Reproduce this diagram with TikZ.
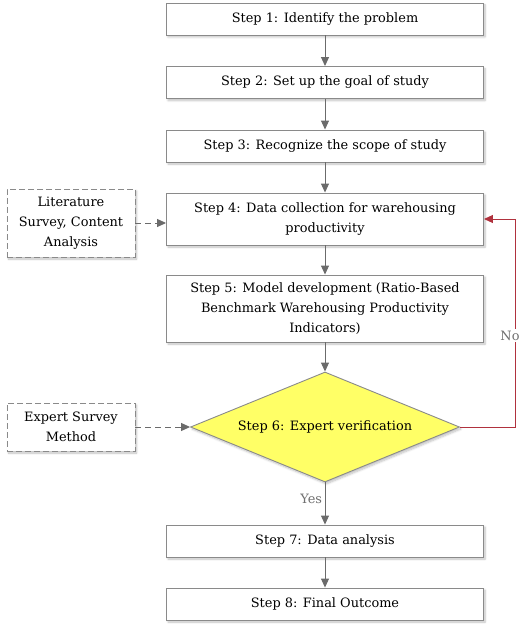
\documentclass[tikz,border=0pt]{standalone}
\usepackage{fontspec}
\setmainfont{DejaVu Serif}
\usetikzlibrary{shapes.geometric,arrows.meta,shadows.blur}
\definecolor{edgegrey}{HTML}{6B6B6B}
\definecolor{boxgrey}{HTML}{8A8A8A}
\definecolor{noRed}{HTML}{B0323E}
\definecolor{diaYellow}{HTML}{FFFF66}
\definecolor{lblgrey}{HTML}{707070}
\tikzset{
  stepbox/.style={draw=boxgrey, line width=0.9pt, fill=white, minimum width=317pt, align=center,
    font=\fontsize{12.9}{20}\selectfont, inner sep=2pt,
    blur shadow={shadow xshift=1.5pt, shadow yshift=-2pt, shadow blur steps=6, shadow opacity=25}},
  sidebox/.style={draw=boxgrey, dashed, dash pattern=on 6pt off 3pt, line width=0.9pt, fill=white,
    minimum width=128pt, align=center, font=\fontsize{12.9}{20}\selectfont, inner sep=2pt,
    blur shadow={shadow xshift=1.5pt, shadow yshift=-2pt, shadow blur steps=6, shadow opacity=25}},
  decision/.style={diamond, draw=boxgrey, line width=0.9pt, fill=diaYellow, aspect=2.45,
    minimum width=269pt, minimum height=110pt, inner sep=0pt, font=\fontsize{12.9}{20}\selectfont,
    blur shadow={shadow xshift=1.5pt, shadow yshift=-2pt, shadow blur steps=6, shadow opacity=25}},
  flow/.style={draw=edgegrey, line width=1pt, -{Triangle[length=9pt,width=8pt]}},
  dflow/.style={flow, dash pattern=on 6pt off 4pt},
  noflow/.style={draw=noRed, line width=0.9pt, -{Triangle[length=9pt,width=8pt]}},
  lbl/.style={text=lblgrey, font=\fontsize{12.9}{14}\selectfont, fill=white, inner sep=1.5pt}
}
\begin{document}
\begin{tikzpicture}[x=1pt,y=-1pt]
\useasboundingbox (0,0) rectangle (520,628);
\node[stepbox, minimum height=32pt] (s1) at (325,19) {Step 1: Identify the problem};
\node[stepbox, minimum height=32pt] (s2) at (325,82.5) {Step 2: Set up the goal of study};
\node[stepbox, minimum height=32pt] (s3) at (325,146) {Step 3: Recognize the scope of study};
\node[stepbox, minimum height=52pt] (s4) at (325,219) {Step 4: Data collection for warehousing\\productivity};
\node[stepbox, minimum height=67pt] (s5) at (325,308.5) {Step 5: Model development (Ratio-Based\\Benchmark Warehousing Productivity\\Indicators)};
\node[decision] (s6) at (325,427) {Step 6: Expert verification};
\node[stepbox, minimum height=32pt] (s7) at (325,541) {Step 7: Data analysis};
\node[stepbox, minimum height=32pt] (s8) at (325,604) {Step 8: Final Outcome};
\node[sidebox, minimum height=68pt] (lit) at (71,223) {Literature\\Survey, Content\\Analysis};
\node[sidebox, minimum height=48pt] (exp) at (71,427) {Expert Survey\\Method};
\coordinate (c1) at (515,427);
\coordinate (c2) at (515,219);
\draw[flow] (s1) -- (s2);
\draw[flow] (s2) -- (s3);
\draw[flow] (s3) -- (s4.north);
\draw[flow] (s4.south) -- (s5.north);
\draw[flow] (s5.south) -- (s6.north);
\draw[flow] (s6.south) -- node[lbl, pos=0.38, left=1pt] {Yes} (s7.north);
\draw[flow] (s7) -- (s8);
\draw[dflow] (lit.east) -- (lit.east -| s4.west);
\draw[dflow] (exp.east) -- (s6.west);
\draw[noflow] (s6.east) -- (c1) -- node[lbl, pos=0.44, xshift=-5pt] {No} (c2) -- (s4.east |- c2);
\end{tikzpicture}
\end{document}
